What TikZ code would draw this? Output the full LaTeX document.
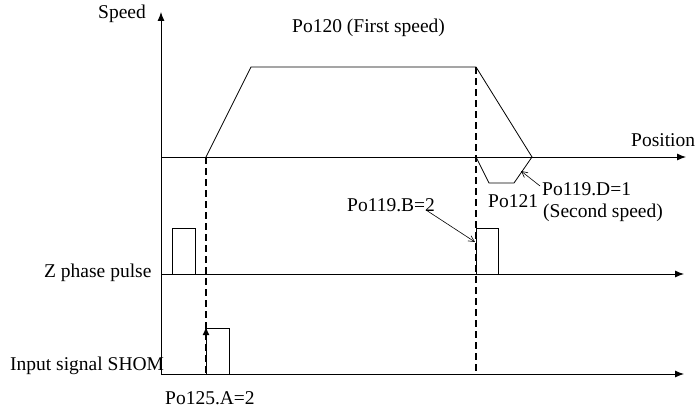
\documentclass[tikz,border=0pt]{standalone}
\usepackage{fontspec}
\setmainfont{Liberation Serif}
\usetikzlibrary{arrows.meta}
\begin{document}
\begin{tikzpicture}[x=1pt,y=-1pt,
  lbl/.style={anchor=base west,inner sep=0pt,font=\fontsize{19.5}{22}\selectfont},
  axis/.style={line width=0.9pt,-{Latex[length=9pt,width=7pt]}},
  sig/.style={line width=0.8pt},
  dashline/.style={line width=1.7pt,dash pattern=on 7pt off 4pt},
  note/.style={line width=0.6pt,-{Straight Barb[length=6pt,width=6pt]}}]
\useasboundingbox (0,0) rectangle (698,412);
% axes
\coordinate (o) at (161,375);
\coordinate (ytop) at (161,12);
\coordinate (p0) at (161,157);
\coordinate (pend) at (686,157);
\coordinate (z0) at (161,274);
\coordinate (zend) at (684,274);
\coordinate (s0) at (161,374);
\coordinate (send) at (684,374);
\draw[axis] (o) -- (ytop);
\draw[axis] (p0) -- (pend);
\draw[axis] (z0) -- (zend);
\draw[axis] (s0) -- (send);
% speed profile
\draw[sig] (206,157) -- (251,67) -- (476,67) -- (532,157);
\draw[sig] (476,157) -- (489,183) -- (514,183) -- (532,157);
% Z pulses
\draw[sig] (172,274) -- (172,228) -- (195,228) -- (195,274);
\draw[sig] (476,274) -- (476,228) -- (498,228) -- (498,274);
% SHOM pulse
\draw[sig] (206,374) -- (206,328) -- (229,328) -- (229,374);
% dashed lines
\draw[dashline] (206,157) -- (206,374);
\draw[dashline] (476,67) -- (476,374);
% arrow up on SHOM edge
\coordinate (sa0) at (206,372);
\coordinate (sa1) at (206,327);
\draw[line width=1pt,-{Latex[length=8pt,width=7pt]}] (sa0) -- (sa1);
% labels
\node[lbl] (speed) at (98,18.5) {Speed};
\node[lbl] (po120) at (292,33) {Po120 (First speed)};
\node[lbl] (pos) at (631,146) {Position};
\node[lbl] (pod) at (542,195) {Po119.D=1};
\node[lbl] (sec) at (543,217) {(Second speed)};
\node[lbl] (p121) at (488,207) {Po121};
\node[lbl] (pob) at (347,211) {Po119.B=2};
\node[lbl] (zp) at (44,277) {Z phase pulse};
\node[lbl] (shom) at (10,370) {Input signal SHOM};
\node[lbl] (p125) at (165,404) {Po125.A=2};
% annotation arrows
\coordinate (btail) at (426,210);
\coordinate (btip) at (475,242);
\coordinate (dtail) at (540,186);
\coordinate (dtip) at (521,171);
\draw[note] (btail) -- (btip);
\draw[note] (dtail) -- (dtip);
\end{tikzpicture}
\end{document}
